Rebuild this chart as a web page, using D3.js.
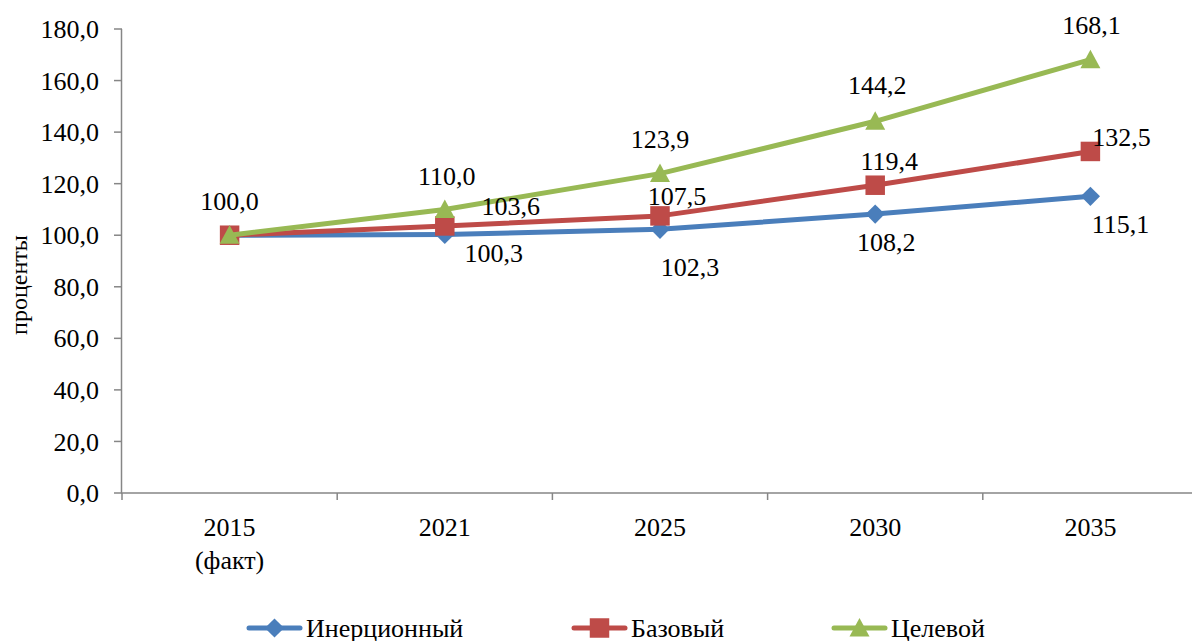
<!DOCTYPE html>
<html>
<head>
<meta charset="utf-8">
<script src="https://cdn.jsdelivr.net/npm/d3@7"></script>
<style>
  body { margin: 0; background: #fff; }
</style>
</head>
<body>
<div id="chart"></div>
<script>
// data
const categories = ["2015 (факт)", "2021", "2025", "2030", "2035"];
const inertial = [100.0, 100.3, 102.3, 108.2, 115.1];
const base = [100.0, 103.6, 107.5, 119.4, 132.5];
const target = [100.0, 110.0, 123.9, 144.2, 168.1];
const yTicks = [0, 20, 40, 60, 80, 100, 120, 140, 160, 180];

// label offsets (dx, dy of label centre from point)
const inertialLabelPos = [null, [49, 18], [30, 38], [11, 28], [30, 28]];
const baseLabelPos = [null, [66, -20], [17, -20], [14, -24], [31, -15]];
const targetLabelPos = [[0, -34], [2, -34], [0, -35], [2, -36], [1, -35]];

const width = 1192, height = 641;
const fmt = v => v.toFixed(1).replace(".", ",");
const font = "'Liberation Serif', 'Times New Roman', serif";

const svg = d3.select("#chart").append("svg")
    .attr("width", width)
    .attr("height", height)
    .attr("font-family", font);

const x = d3.scaleBand().domain(categories).range([122, 1198]);
const y = d3.scaleLinear().domain([0, 180]).range([493, 29]);
const cx = c => x(c) + x.bandwidth() / 2;

const axisColor = "#868686";

// y axis
svg.append("line")
    .attr("x1", 121.5).attr("x2", 121.5)
    .attr("y1", y(180)).attr("y2", y(0))
    .attr("stroke", axisColor).attr("stroke-width", 1.5);

svg.selectAll(".ytick")
    .data(yTicks)
    .enter().append("line")
    .attr("x1", 114).attr("x2", 122)
    .attr("y1", d => y(d)).attr("y2", d => y(d))
    .attr("stroke", axisColor).attr("stroke-width", 1.5);

svg.selectAll(".ylab")
    .data(yTicks)
    .enter().append("text")
    .attr("x", 99)
    .attr("y", d => y(d))
    .attr("dy", "0.35em")
    .attr("text-anchor", "end")
    .attr("font-family", font)
    .style("font-size", "26px")
    .text(d => fmt(d));

svg.append("text")
    .attr("transform", `translate(27, 285) rotate(-90)`)
    .attr("text-anchor", "middle")
    .attr("font-family", font)
    .style("font-size", "24px")
    .text("проценты");

// x axis
svg.append("line")
    .attr("x1", 121).attr("x2", 1198)
    .attr("y1", y(0)).attr("y2", y(0))
    .attr("stroke", axisColor).attr("stroke-width", 1.5);

const bounds = categories.map(c => x(c)).concat([x(categories[categories.length - 1]) + x.bandwidth()]);
svg.selectAll(".xtick")
    .data(bounds)
    .enter().append("line")
    .attr("x1", d => d).attr("x2", d => d)
    .attr("y1", y(0)).attr("y2", y(0) + 7)
    .attr("stroke", axisColor).attr("stroke-width", 1.5);

const xl = svg.selectAll(".xlab")
    .data(categories)
    .enter().append("text")
    .attr("x", d => cx(d))
    .attr("y", 536)
    .attr("text-anchor", "middle")
    .attr("font-family", font)
    .style("font-size", "26px");

xl.each(function(d) {
  const parts = d.split(" ");
  const t = d3.select(this);
  parts.forEach((p, i) => {
    t.append("tspan")
        .attr("x", cx(d))
        .attr("dy", i === 0 ? 0 : "1.25em")
        .text(p);
  });
});

// markers
const diamond = d3.symbol().type(d3.symbolSquare).size(185)();
const square = d3.symbol().type(d3.symbolSquare).size(380)();
const triangle = "M0,-10L10,8.5L-10,8.5Z";

const series = [
  { name: "Инерционный", values: inertial, color: "#4a7ebb", marker: diamond, rot: 45, labels: inertialLabelPos },
  { name: "Базовый", values: base, color: "#be4b48", marker: square, rot: 0, labels: baseLabelPos },
  { name: "Целевой", values: target, color: "#98b954", marker: triangle, rot: 0, labels: targetLabelPos }
];

const line = d3.line()
    .x((d, i) => cx(categories[i]))
    .y(d => y(d));

series.forEach(s => {
  svg.append("path")
      .datum(s.values)
      .attr("fill", "none")
      .attr("stroke", s.color)
      .attr("stroke-width", 5)
      .attr("stroke-linejoin", "round")
      .attr("stroke-linecap", "round")
      .attr("d", line);

  svg.selectAll(null)
      .data(s.values)
      .enter().append("path")
      .attr("transform", (d, i) => `translate(${cx(categories[i])}, ${y(d)}) rotate(${s.rot})`)
      .attr("d", s.marker)
      .attr("fill", s.color);
});

// data labels
series.forEach(s => {
  svg.selectAll(null)
      .data(s.values.map((v, i) => ({ v, i, off: s.labels[i] })).filter(d => d.off))
      .enter().append("text")
      .attr("x", d => cx(categories[d.i]) + d.off[0])
      .attr("y", d => y(d.v) + d.off[1])
      .attr("dy", "0.35em")
      .attr("text-anchor", "middle")
      .attr("font-family", font)
      .style("font-size", "26px")
      .text(d => fmt(d.v));
});

// legend
const legendItems = [
  { s: series[0], x: 247 },
  { s: series[1], x: 572 },
  { s: series[2], x: 832 }
];
const lg = svg.selectAll(".legend")
    .data(legendItems)
    .enter().append("g")
    .attr("transform", d => `translate(${d.x}, 628)`);

lg.append("line")
    .attr("x1", 2).attr("x2", 53)
    .attr("y1", 0).attr("y2", 0)
    .attr("stroke", d => d.s.color)
    .attr("stroke-width", 5)
    .attr("stroke-linecap", "round");

lg.append("path")
    .attr("transform", d => `translate(27.5, 0) rotate(${d.s.rot})`)
    .attr("d", d => d.s.marker)
    .attr("fill", d => d.s.color);

lg.append("text")
    .attr("x", 59)
    .attr("y", 0)
    .attr("dy", "0.35em")
    .attr("font-family", font)
    .style("font-size", "26px")
    .text(d => d.s.name);
</script>
</body>
</html>
